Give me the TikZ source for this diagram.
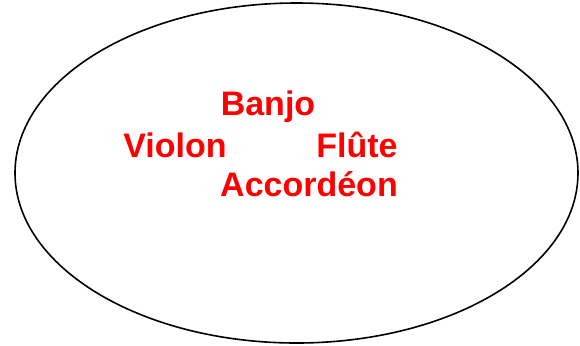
\documentclass[tikz,border=0pt]{standalone}
\usepackage{fontspec}
\setmainfont{Liberation Sans}
\usetikzlibrary{shapes.geometric, positioning}

\tikzset{
	instrument/.style={text=red, font=\fontsize{17}{20}\selectfont\bfseries, anchor=base, inner sep=0pt},
}

\begin{document}
\begin{tikzpicture}[x=0.5pt, y=-0.5pt]
	\useasboundingbox (0,0) rectangle (580,345);
	% ensemble des instruments
	\node[draw, ellipse, line width=0.8pt, minimum width=281.5pt, minimum height=170pt, inner sep=0pt] (ensemble) at (296.5,173) {};
	\node[instrument] (banjo) at (268,115) {Banjo};
	\node[instrument] (violon) at (175,157) {Violon};
	\node[instrument] (flute) at (357,157) {Flûte};
	\node[instrument] (accordeon) at (309,196) {Accordéon};
\end{tikzpicture}
\end{document}
